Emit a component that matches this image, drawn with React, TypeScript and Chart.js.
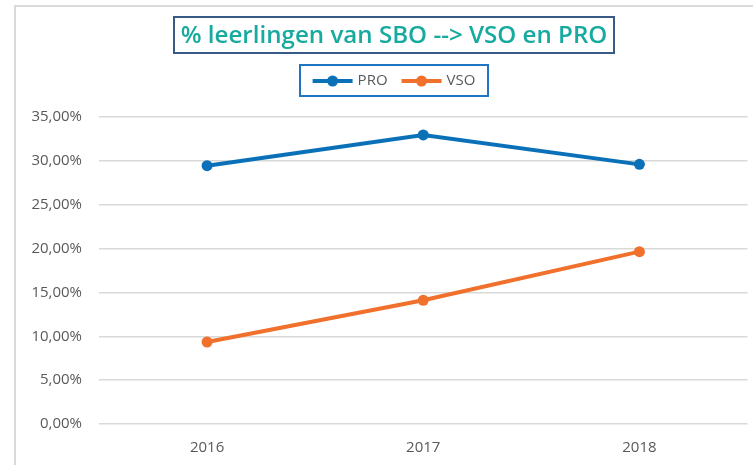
import React, { useEffect, useRef } from "react";
import { Chart, registerables } from "chart.js";

Chart.register(...registerables);

const categories = ["2016", "2017", "2018"];
const seriesNames = ["PRO", "VSO"];
const proValues = [29.45, 32.95, 29.6];
const vsoValues = [9.35, 14.1, 19.65];
const yMin = 0;
const yMax = 35;
const yStep = 5;
const titleText = "% leerlingen van SBO --> VSO en PRO";

const seriesColors = ["#0A71B9", "#F0702C"];
const FONT = '"Open Sans", "Liberation Sans", sans-serif';

const decorPlugin = {
  id: "decor",
  afterDraw(chart: any) {
    const ctx = chart.ctx as CanvasRenderingContext2D;
    ctx.save();
    // outer chart frame (partially visible)
    ctx.fillStyle = "#D9D9D9";
    ctx.fillRect(14, 5, 2, 460);
    ctx.fillRect(14, 5, 739, 2);

    // title box
    ctx.strokeStyle = "#3A5A86";
    ctx.lineWidth = 2;
    ctx.strokeRect(174, 17, 440, 36);
    let size = 24;
    ctx.font = `600 ${size}px ${FONT}`;
    const w = ctx.measureText(titleText).width;
    size = (size * 427) / w;
    ctx.font = `600 ${size}px ${FONT}`;
    ctx.fillStyle = "#17AA9F";
    ctx.textAlign = "center";
    ctx.textBaseline = "middle";
    ctx.fillText(titleText, 394, 36);

    // legend box
    ctx.strokeStyle = "#1F74C4";
    ctx.lineWidth = 2;
    ctx.strokeRect(300, 65, 188, 31);
    ctx.font = `15px ${FONT}`;
    ctx.textAlign = "left";
    ctx.textBaseline = "middle";
    const ds = chart.data.datasets;
    const widths = ds.map((d: any) => ctx.measureText(d.label).width);
    const lineLen = 40;
    const total = lineLen * ds.length + widths.reduce((a: number, b: number) => a + b, 0) + 5 * ds.length + 14 * (ds.length - 1);
    let x = 394 - total / 2;
    const cy = 81;
    ds.forEach((d: any, i: number) => {
      ctx.strokeStyle = d.borderColor;
      ctx.lineWidth = 4;
      ctx.beginPath();
      ctx.moveTo(x, cy);
      ctx.lineTo(x + lineLen, cy);
      ctx.stroke();
      ctx.fillStyle = d.borderColor;
      ctx.beginPath();
      ctx.arc(x + lineLen / 2, cy, 5.5, 0, Math.PI * 2);
      ctx.fill();
      x += lineLen + 5;
      ctx.fillStyle = "#595959";
      ctx.fillText(d.label, x, cy);
      x += widths[i] + 14;
    });
    ctx.restore();
  },
};

export default function App() {
  const ref = useRef<HTMLCanvasElement | null>(null);

  useEffect(() => {
    document.body.style.margin = "0";
    const canvas = ref.current;
    if (!canvas) return;
    const chart = new Chart(canvas, {
      type: "line",
      data: {
        labels: categories,
        datasets: [
          {
            label: seriesNames[0],
            data: proValues,
            borderColor: seriesColors[0],
            backgroundColor: seriesColors[0],
            borderWidth: 4,
            pointRadius: 5.5,
            pointBorderWidth: 0,
            pointBackgroundColor: seriesColors[0],
            tension: 0,
          },
          {
            label: seriesNames[1],
            data: vsoValues,
            borderColor: seriesColors[1],
            backgroundColor: seriesColors[1],
            borderWidth: 4,
            pointRadius: 5.5,
            pointBorderWidth: 0,
            pointBackgroundColor: seriesColors[1],
            tension: 0,
          },
        ],
      },
      options: {
        responsive: false,
        animation: false,
        layout: { padding: { top: 117, left: 0, right: 0, bottom: 0 } },
        plugins: {
          legend: { display: false },
          title: { display: false },
          tooltip: { enabled: false },
        },
        scales: {
          x: {
            offset: true,
            grid: { display: false, drawTicks: false },
            border: { display: false },
            ticks: { color: "#595959", font: { family: FONT, size: 15 }, padding: 15 },
            afterFit: (scale: any) => {
              scale.height = 41;
            },
          },
          y: {
            min: yMin,
            max: yMax,
            ticks: {
              stepSize: yStep,
              color: "#595959",
              font: { family: FONT, size: 15 },
              padding: 17,
              callback: (v: any) => Number(v).toFixed(2).replace(".", ",") + "%",
            },
            grid: { color: "#D9D9D9", lineWidth: 1.5, drawTicks: false },
            border: { display: false },
            afterFit: (scale: any) => {
              scale.width = 99;
            },
          },
        },
      },
      plugins: [decorPlugin],
    });
    return () => chart.destroy();
  }, []);

  return (
    <div style={{ position: "absolute", left: 0, top: 0, width: 753, height: 465, background: "#fff" }}>
      <canvas ref={ref} width={753} height={465} style={{ width: 753, height: 465, display: "block" }} />
    </div>
  );
}
